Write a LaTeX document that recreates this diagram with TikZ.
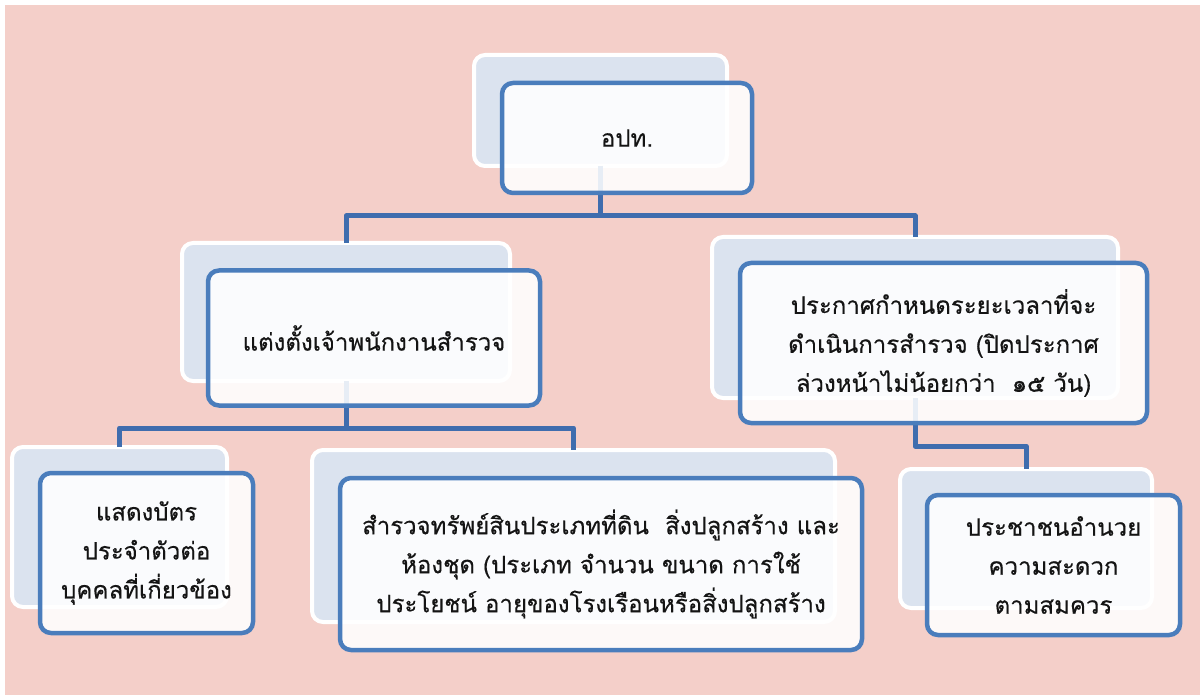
\documentclass[tikz,border=0pt]{standalone}
\usepackage{fontspec}
\newfontfamily\thaifont[Script=Thai,FakeBold=0.4]{Loma}
\definecolor{bgpink}{HTML}{F4CFC9}
\definecolor{shadefill}{HTML}{DBE3EF}
\definecolor{frontblue}{HTML}{4A7DBC}
\definecolor{connblue}{HTML}{3F6DAE}
\definecolor{txt}{HTML}{141414}
\tikzset{
  shadowbox/.style={rounded corners=11pt, fill=shadefill, draw=white, line width=4pt, inner sep=0pt, outer sep=0pt},
  frontbox/.style={rounded corners=11pt, fill=white, fill opacity=0.88, text opacity=1, draw=frontblue, line width=4.5pt, inner sep=2pt, outer sep=0pt, align=center, text=txt, font=\thaifont\fontsize{24}{39}\selectfont},
  conn/.style={draw=connblue, line width=5pt, line join=round}
}
\begin{document}
\begin{tikzpicture}[x=1pt,y=-1pt]
\useasboundingbox (0,0) rectangle (1200,695);
\fill[white] (0,0) rectangle (1200,695);
\fill[bgpink] (5,5) rectangle (1200,695);
% shadow boxes
\node[shadowbox, minimum width=253pt, minimum height=111pt] (sA) at (600.5,110.5) {};
\node[shadowbox, minimum width=328pt, minimum height=138pt] (sB) at (346,312) {};
\node[shadowbox, minimum width=406pt, minimum height=161pt] (sC) at (915,317.5) {};
\node[shadowbox, minimum width=215pt, minimum height=160pt] (sD) at (119.5,527) {};
\node[shadowbox, minimum width=523pt, minimum height=172pt] (sE) at (573.5,536) {};
\node[shadowbox, minimum width=252pt, minimum height=139pt] (sF) at (1026,538.5) {};
% bus levels
\coordinate (busA) at (0,216);
\coordinate (busB) at (0,428);
\coordinate (busC) at (0,446);
% connectors
\draw[conn] (sA.south) -- (sA.south |- busA) -| (sB.north);
\draw[conn] (sA.south |- busA) -| (sC.north);
\draw[conn] (sB.south) -- (sB.south |- busB) -| (sD.north);
\draw[conn] (sB.south |- busB) -| (sE.north);
\draw[conn] (sC.south) -- (sC.south |- busC) -| (sF.north);
% front boxes
\node[frontbox, minimum width=250pt, minimum height=110pt] (fA) at (627,138) {อปท.};
\node[frontbox, minimum width=332pt, minimum height=135pt] (fB) at (374,338) {แต่งตั้งเจ้าพนักงานสำรวจ};
\node[frontbox, minimum width=407pt, minimum height=160pt] (fC) at (943.5,343) {ประกาศกำหนดระยะเวลาที่จะ\\ดำเนินการสำรวจ (ปิดประกาศ\\ล่วงหน้าไม่น้อยกว่า\ \ ๑๕ วัน)};
\node[frontbox, minimum width=213pt, minimum height=160pt] (fD) at (146.5,553) {แสดงบัตร\\ประจำตัวต่อ\\บุคคลที่เกี่ยวข้อง};
\node[frontbox, minimum width=522pt, minimum height=172pt] (fE) at (601,564) {สำรวจทรัพย์สินประเภทที่ดิน\ \ สิ่งปลูกสร้าง และ\\ห้องชุด (ประเภท จำนวน ขนาด การใช้\\ประโยชน์ อายุของโรงเรือนหรือสิ่งปลูกสร้าง};
\node[frontbox, minimum width=253pt, minimum height=140pt] (fF) at (1053.5,565) {ประชาชนอำนวย\\ความสะดวก\\ตามสมควร};
\end{tikzpicture}
\end{document}
